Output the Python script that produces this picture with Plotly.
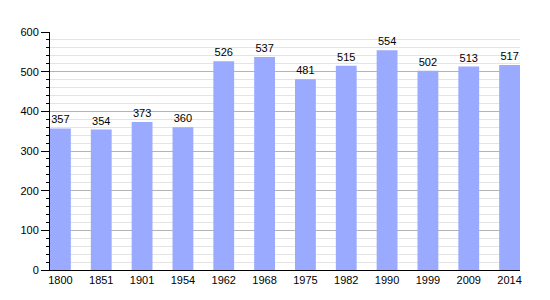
import plotly.graph_objects as go

years = ["1800", "1851", "1901", "1954", "1962", "1968", "1975", "1982", "1990", "1999", "2009", "2014"]
population = [357, 354, 373, 360, 526, 537, 481, 515, 554, 502, 513, 517]
y_ticks = [0, 100, 200, 300, 400, 500, 600]

fig = go.Figure()
fig.add_trace(go.Bar(
    x=years, y=population,
    marker=dict(color="#99aaff", line=dict(width=0)),
    text=[str(v) for v in population], textposition="outside",
    textfont=dict(family="Liberation Sans, Arial", size=11, color="black"),
    cliponaxis=False,
    width=0.51,
))
fig.update_layout(
    width=550, height=300,
    margin=dict(l=50, r=30, t=32, b=30),
    paper_bgcolor="white", plot_bgcolor="white",
    showlegend=False,
    font=dict(family="Liberation Sans, Arial", size=11, color="black"),
    xaxis=dict(
        type="category", range=[-0.255, 11.255],
        showline=True, linecolor="black", linewidth=1,
        ticks="", showgrid=False, tickfont=dict(size=11),
    ),
    yaxis=dict(
        range=[0, 600], tickvals=y_ticks,
        showline=True, linecolor="black", linewidth=1,
        ticks="outside", ticklen=8, tickcolor="black",
        showgrid=True, gridcolor="#b4b4b4", gridwidth=1,
        zeroline=False,
        minor=dict(dtick=20, showgrid=True, gridcolor="#e4e4e4",
                   ticks="outside", ticklen=3, tickcolor="black"),
        tickfont=dict(size=11),
    ),
)
fig.write_html("out.html")
